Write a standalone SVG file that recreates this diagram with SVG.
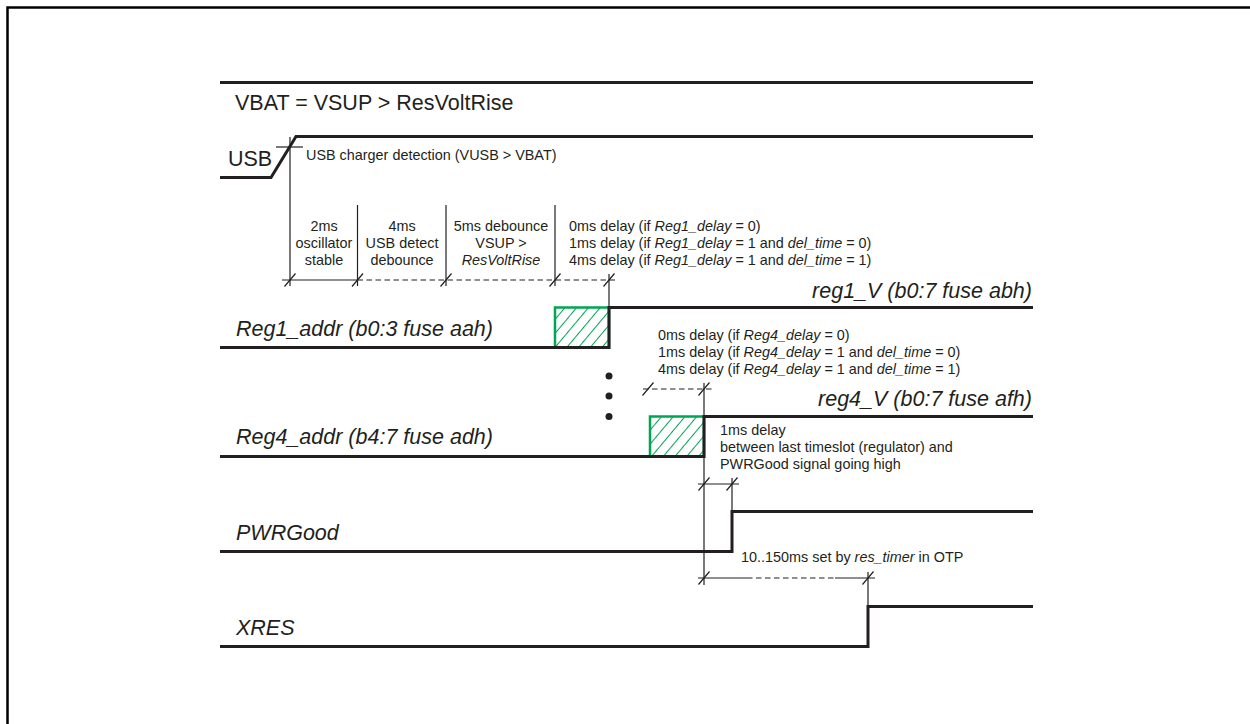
<svg xmlns="http://www.w3.org/2000/svg" width="1250" height="724" viewBox="0 0 1250 724">
<style>
.sig{fill:none;stroke:#231f20;stroke-width:3}
.thin{fill:none;stroke:#231f20;stroke-width:1.2}
.dash{fill:none;stroke:#231f20;stroke-width:1.2;stroke-dasharray:5.5 3.5}
.big{font-family:"Liberation Sans",Arial,sans-serif;font-size:21.5px;fill:#231f20}
.bigi{font-family:"Liberation Sans",Arial,sans-serif;font-size:21.5px;font-style:italic;fill:#231f20}
.sm{font-family:"Liberation Sans",Arial,sans-serif;font-size:14.4px;fill:#231f20}
.it{font-style:italic}
.hatch{fill:url(#hatch);stroke:#00a651;stroke-width:2.5}
</style>
<defs>
<pattern id="hatch" patternUnits="userSpaceOnUse" width="9" height="9" patternTransform="rotate(40)">
<line x1="0" y1="0" x2="0" y2="9" stroke="#00a651" stroke-width="2"/>
</pattern>
<path id="tick" d="M-5.5,6.5 L5.5,-6.5" stroke="#231f20" stroke-width="1.2" fill="none"/>
</defs>
<rect width="1250" height="724" fill="#ffffff"/>
<path d="M7.5,740 V7.5 H1260" fill="none" stroke="#000" stroke-width="2.5"/>

<g id="vbat">
<line class="sig" x1="220" y1="82.5" x2="1033" y2="82.5"/>
<text class="big" x="235" y="110">VBAT = VSUP &gt; ResVoltRise</text>
</g>

<g id="usb">
<polyline class="sig" points="220,177.5 271,177.5 296,136.5 1033,136.5"/>
<text class="big" x="228" y="166">USB</text>
<text class="sm" x="306" y="160">USB charger detection (VUSB &gt; VBAT)</text>
</g>

<g id="reg1">
<rect class="hatch" x="555" y="307.5" width="54" height="40"/>
<polyline class="sig" points="220,347.5 609,347.5 609,307.5 1033,307.5"/>
<text class="bigi" x="236" y="336">Reg1_addr (b0:3 fuse aah)</text>
<text class="bigi" x="1032" y="298" text-anchor="end">reg1_V (b0:7 fuse abh)</text>
</g>

<g id="dots">
<circle cx="609" cy="376" r="3.5" fill="#231f20"/>
<circle cx="609" cy="396" r="3.5" fill="#231f20"/>
<circle cx="609" cy="416.5" r="3.5" fill="#231f20"/>
</g>

<g id="reg4">
<rect class="hatch" x="650" y="416.5" width="54" height="40"/>
<polyline class="sig" points="220,456.5 704,456.5 704,416.5 1033,416.5"/>
<text class="bigi" x="236" y="444">Reg4_addr (b4:7 fuse adh)</text>
<text class="bigi" x="1032" y="406" text-anchor="end">reg4_V (b0:7 fuse afh)</text>
</g>

<g id="pwrgood">
<polyline class="sig" points="220,551.5 732,551.5 732,511.5 1033,511.5"/>
<text class="bigi" x="236" y="540">PWRGood</text>
</g>

<g id="xres">
<polyline class="sig" points="220,646.5 868,646.5 868,606.5 1033,606.5"/>
<text class="bigi" x="236" y="635">XRES</text>
</g>

<g id="connectors">
<line class="thin" x1="276" y1="147" x2="303" y2="147"/>
<line class="thin" x1="290" y1="137" x2="290" y2="286"/>
<line class="thin" x1="357.5" y1="205" x2="357.5" y2="286"/>
<line class="thin" x1="446" y1="205" x2="446" y2="286"/>
<line class="thin" x1="555" y1="205" x2="555" y2="286"/>
<line class="thin" x1="609" y1="274" x2="609" y2="307"/>
<line class="thin" x1="282" y1="280" x2="357.5" y2="280"/>
<line class="dash" x1="357.5" y1="280" x2="617" y2="280"/>
<use href="#tick" x="290" y="280"/>
<use href="#tick" x="357.5" y="280"/>
<use href="#tick" x="446" y="280"/>
<use href="#tick" x="555" y="280"/>
<use href="#tick" x="609" y="280"/>

<line class="dash" x1="643" y1="389" x2="712" y2="389"/>
<use href="#tick" x="648" y="389"/>
<use href="#tick" x="704" y="389"/>
<line class="thin" x1="704" y1="383" x2="704" y2="585"/>

<line class="thin" x1="698" y1="484" x2="739" y2="484"/>
<use href="#tick" x="704" y="484"/>
<use href="#tick" x="732" y="484"/>
<line class="thin" x1="732" y1="478" x2="732" y2="511"/>

<line class="thin" x1="698" y1="578" x2="747" y2="578"/>
<line class="dash" x1="747" y1="578" x2="835" y2="578"/>
<line class="thin" x1="835" y1="578" x2="875" y2="578"/>
<use href="#tick" x="704" y="578"/>
<use href="#tick" x="868" y="578"/>
<line class="thin" x1="868" y1="572" x2="868" y2="606"/>
</g>

<g id="labels">
<text class="sm" text-anchor="middle"><tspan x="324" y="231">2ms</tspan><tspan x="324" y="248">oscillator</tspan><tspan x="324" y="265">stable</tspan></text>
<text class="sm" text-anchor="middle"><tspan x="402" y="231">4ms</tspan><tspan x="402" y="248">USB detect</tspan><tspan x="402" y="265">debounce</tspan></text>
<text class="sm" text-anchor="middle"><tspan x="501" y="231">5ms debounce</tspan><tspan x="501" y="248">VSUP &gt;</tspan><tspan x="501" y="265" class="it">ResVoltRise</tspan></text>
<text class="sm"><tspan x="569" y="231">0ms delay (if <tspan class="it">Reg1_delay</tspan> = 0)</tspan><tspan x="569" y="248">1ms delay (if <tspan class="it">Reg1_delay</tspan> = 1 and <tspan class="it">del_time</tspan> = 0)</tspan><tspan x="569" y="265">4ms delay (if <tspan class="it">Reg1_delay</tspan> = 1 and <tspan class="it">del_time</tspan> = 1)</tspan></text>
<text class="sm"><tspan x="658" y="340">0ms delay (if <tspan class="it">Reg4_delay</tspan> = 0)</tspan><tspan x="658" y="357">1ms delay (if <tspan class="it">Reg4_delay</tspan> = 1 and <tspan class="it">del_time</tspan> = 0)</tspan><tspan x="658" y="374">4ms delay (if <tspan class="it">Reg4_delay</tspan> = 1 and <tspan class="it">del_time</tspan> = 1)</tspan></text>
<text class="sm"><tspan x="720" y="435">1ms delay</tspan><tspan x="720" y="452">between last timeslot (regulator) and</tspan><tspan x="720" y="469">PWRGood signal going high</tspan></text>
<text class="sm" x="741" y="562">10..150ms set by <tspan class="it">res_timer</tspan> in OTP</text>
</g>
</svg>
